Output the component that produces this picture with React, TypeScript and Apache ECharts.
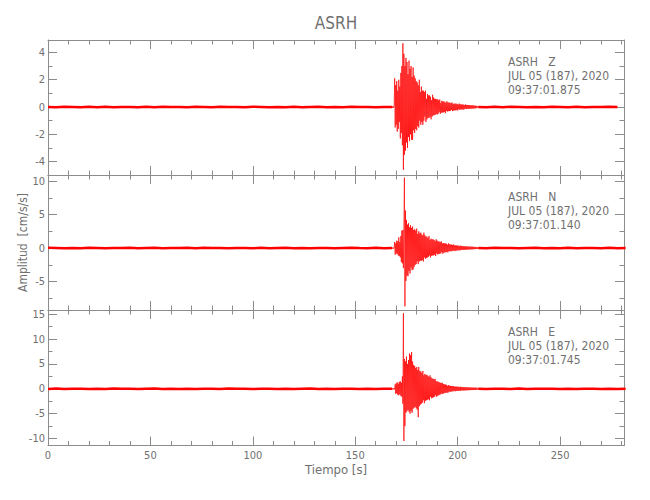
import React, { useEffect, useRef } from 'react';
import * as echarts from 'echarts';

// ---------- text content ----------
const STATION = 'ASRH';
const CHANNELS = ['Z', 'N', 'E'];
const DATE_LABEL = 'JUL 05 (187), 2020';
const START_TIMES = ['09:37:01.875', '09:37:01.140', '09:37:01.745'];
const X_AXIS_NAME = 'Tiempo [s]';
const Y_AXIS_NAME = 'Amplitud  [cm/s/s]';

// ---------- axes ----------
const X_MAX = 281.2;
const X_MAJOR = [0, 50, 100, 150, 200, 250];
const X_MINOR = [10, 20, 30, 40, 60, 70, 80, 90, 110, 120, 130, 140, 160, 170, 180, 190, 210, 220, 230, 240, 260, 270, 280];
const Y_MIN = [-4.98, -9.25, -11.4];
const Y_MAX = [4.91, 10.9, 15.85];
const Y_MAJOR_Z = [-4, -2, 0, 2, 4];
const Y_MAJOR_N = [-5, 0, 5, 10];
const Y_MAJOR_E = [-10, -5, 0, 5, 10, 15];
const Y_MINOR_Z = [-3, -1, 1, 3];
const Y_MINOR_N = [-7.5, -2.5, 2.5, 7.5];
const Y_MINOR_E = [-7.5, -2.5, 2.5, 7.5, 12.5];

// ---------- sampling of the traces (s) ----------
const PRE_START = 0;
const NOISE_STEP = 4;
const EVENT_START = 168;
const EVENT_STEP = 0.25;
const POST_START = 210;

// ---------- Z component ----------
const zPre = [0.01, -0.02, 0.015, 0.0, -0.015, 0.02, -0.01, 0.015, -0.02, 0.01, 0.005, -0.015, 0.02, -0.01, 0.015, -0.005, 0.01, -0.02, 0.015, 0.01, -0.015, 0.02, -0.005, 0.01, -0.015, 0.015, 0.005, -0.02, 0.01, -0.01, 0.02, -0.015, 0.005, 0.015, -0.01, 0.01, -0.02, 0.015, -0.005, 0.01, -0.015, 0.01, 0.0];
const zEvent = [
  0.05, -0.07, 0.06, -0.05,
  0.09, 2.1, -1.5, 1.6,
  -1.3, 1.9, -1.8, 1.2,
  -1.6, 2.0, -1.1, 1.5,
  -2.3, 2.5, -1.9, 3.0,
  -2.8, 4.67, -4.6, 3.9,
  -3.5, 3.0, -3.2, 3.6,
  -2.6, 3.3, -3.0, 2.4,
  -2.2, 3.4, -2.5, 2.8,
  -2.0, 3.0, -2.4, 2.2,
  -2.4, 2.9, -1.7, 2.3,
  -1.9, 2.1, -1.6, 1.9,
  -1.7, 1.8, -1.4, 1.6,
  -1.5, 2.0, -1.0, 1.1,
  -1.3, 1.5, -1.1, 1.2,
  -1.3, 1.2, -1.0, 1.1,
  -0.7, 1.2, -1.1, 0.6,
  -0.9, 0.95, -0.8, 0.85,
  -0.8, 0.85, -0.7, 0.75,
  -0.9, 0.5, -0.7, 0.9,
  -0.62, 0.7, -0.6, 0.6,
  -0.58, 0.6, -0.5, 0.56,
  -0.55, 0.56, -0.48, 0.5,
  -0.35, 0.55, -0.5, 0.3,
  -0.42, 0.45, -0.4, 0.42,
  -0.4, 0.4, -0.36, 0.38,
  -0.45, 0.3, -0.28, 0.42,
  -0.33, 0.34, -0.3, 0.32,
  -0.3, 0.31, -0.28, 0.3,
  -0.2, 0.33, -0.3, 0.22,
  -0.26, 0.25, -0.24, 0.25,
  -0.24, 0.24, -0.22, 0.23,
  -0.26, 0.18, -0.16, 0.25,
  -0.2, 0.2, -0.18, 0.19,
  -0.18, 0.18, -0.17, 0.18,
  -0.2, 0.13, -0.12, 0.19,
  -0.15, 0.15, -0.14, 0.15,
  -0.14, 0.14, -0.13, 0.13,
  -0.13, 0.12, -0.12, 0.12,
  -0.12, 0.12, -0.11, 0.11,
  -0.11, 0.1, -0.1, 0.1,
  -0.09, 0.08, -0.07, 0.06,
  0.01,
];
const zPost = [0.01, -0.02, 0.015, -0.01, 0.02, 0.005, -0.015, 0.01, -0.02, 0.015, 0.005, -0.01, 0.02, -0.015, 0.01, -0.005, 0.015, 0.0];

// ---------- N component ----------
const nPre = [0.025, 0.01, -0.03, 0.02, -0.015, 0.03, 0.005, -0.025, 0.02, -0.01, 0.03, -0.02, 0.01, 0.025, -0.03, 0.015, -0.005, 0.025, -0.02, 0.03, -0.01, 0.015, -0.025, 0.02, 0.005, -0.03, 0.025, -0.015, 0.01, 0.03, -0.02, 0.015, -0.025, 0.01, 0.02, -0.03, 0.015, 0.025, -0.01, -0.02, 0.03, -0.015, 0.0];
const nEvent = [
  0.08, -0.1, 0.07, -0.09,
  0.12, 0.9, -1.0, 0.7,
  -0.8, 1.1, -0.9, 1.0,
  -1.1, 1.6, -1.2, 0.9,
  -1.4, 1.8, -2.1, 2.6,
  -2.3, 2.7, -3.0, 3.3,
  10.5, -8.7, 5.6, -4.9,
  4.2, -4.1, 3.5, -4.2,
  3.7, -3.4, 3.1, -3.8,
  3.4, -2.9, 3.0, -3.3,
  3.2, -3.2, 2.7, -2.8,
  2.8, -2.5, 2.6, -2.4,
  2.9, -2.0, 2.1, -2.4,
  2.5, -2.0, 2.2, -1.9,
  2.3, -1.9, 2.0, -1.8,
  1.9, -2.0, 2.3, -1.4,
  1.9, -1.6, 1.7, -1.5,
  1.7, -1.4, 1.5, -1.3,
  1.8, -1.1, 1.2, -1.4,
  1.4, -1.15, 1.3, -1.1,
  1.3, -1.1, 1.2, -1.0,
  1.0, -1.2, 1.3, -0.8,
  1.1, -0.95, 1.0, -0.9,
  0.95, -0.85, 0.9, -0.8,
  1.0, -0.6, 0.7, -0.85,
  0.75, -0.7, 0.7, -0.65,
  0.68, -0.62, 0.64, -0.6,
  0.5, -0.65, 0.7, -0.45,
  0.55, -0.5, 0.52, -0.48,
  0.5, -0.46, 0.47, -0.44,
  0.52, -0.35, 0.38, -0.46,
  0.4, -0.38, 0.38, -0.36,
  0.36, -0.34, 0.34, -0.32,
  0.28, -0.36, 0.37, -0.25,
  0.3, -0.28, 0.28, -0.27,
  0.27, -0.26, 0.26, -0.25,
  0.25, -0.24, 0.24, -0.23,
  0.23, -0.22, 0.22, -0.21,
  0.21, -0.2, 0.2, -0.19,
  0.2, -0.19, 0.19, -0.18,
  0.18, -0.17, 0.17, -0.16,
  0.16, -0.15, 0.14, -0.12,
  0.015,
];
const nPost = [0.015, -0.025, 0.03, -0.01, 0.02, -0.03, 0.015, 0.025, -0.02, 0.01, -0.03, 0.025, -0.015, 0.02, 0.01, -0.025, 0.03, -0.015, 0.01];

// ---------- E component ----------
const ePre = [-0.03, 0.04, -0.015, 0.035, 0.01, -0.04, 0.025, -0.02, 0.045, -0.01, 0.03, -0.035, 0.015, 0.04, -0.025, 0.01, -0.04, 0.03, -0.015, 0.035, 0.02, -0.03, 0.04, -0.01, 0.025, -0.045, 0.015, 0.03, -0.02, 0.035, -0.03, 0.01, 0.04, -0.025, 0.02, -0.035, 0.03, 0.005, -0.04, 0.025, -0.015, 0.03, 0.0];
const eEvent = [
  0.1, -0.14, 0.12, -0.1,
  0.13, -0.12, 0.9, -1.0,
  1.1, -0.9, 1.3, -1.2,
  1.0, -1.3, 1.4, -1.1,
  1.5, -1.4, 1.2, -1.6,
  2.5, -3.0, 15.2, -10.5,
  6.0, -7.5, 5.5, -4.8,
  6.5, -4.5, 5.0, -4.2,
  5.8, -4.6, 7.1, -5.0,
  6.8, -4.4, 7.4, -4.8,
  5.5, -4.0, 4.8, -3.8,
  4.6, -3.6, 4.2, -3.9,
  4.4, -4.2, 3.8, -5.7,
  4.4, -3.5, 3.6, -3.2,
  3.5, -3.0, 3.2, -2.8,
  3.6, -2.3, 2.7, -2.9,
  3.0, -2.4, 2.8, -2.3,
  2.8, -2.2, 2.6, -2.1,
  2.4, -2.3, 2.7, -1.6,
  2.3, -1.9, 2.1, -1.8,
  2.0, -1.7, 1.9, -1.6,
  2.0, -1.3, 1.5, -1.6,
  1.5, -1.4, 1.4, -1.3,
  1.3, -1.2, 1.2, -1.1,
  1.2, -0.9, 1.2, -1.05,
  0.95, -0.9, 0.9, -0.85,
  0.85, -0.8, 0.8, -0.75,
  0.6, -0.8, 0.75, -0.58,
  0.62, -0.6, 0.58, -0.56,
  0.55, -0.52, 0.52, -0.5,
  0.56, -0.42, 0.4, -0.5,
  0.45, -0.43, 0.43, -0.41,
  0.42, -0.4, 0.4, -0.38,
  0.35, -0.42, 0.43, -0.3,
  0.36, -0.34, 0.34, -0.33,
  0.33, -0.32, 0.32, -0.3,
  0.31, -0.3, 0.3, -0.28,
  0.3, -0.28, 0.28, -0.27,
  0.28, -0.26, 0.26, -0.25,
  0.26, -0.25, 0.25, -0.24,
  0.25, -0.24, 0.24, -0.23,
  0.24, -0.22, 0.2, -0.15,
  0.015,
];
const ePost = [0.015, -0.035, 0.025, 0.01, -0.03, 0.04, -0.02, 0.03, -0.01, 0.035, -0.025, 0.015, -0.04, 0.03, 0.01, -0.025, 0.035, -0.015, 0.02];

// ---------- layout / style ----------
const GRID_LEFT = 48;
const GRID_WIDTH = 576;
const GRID_TOPS = [40, 175, 310];
const GRID_HEIGHTS = [135, 135, 135.5];
const AXIS_COLOR = '#8c8c8c';
const TEXT_COLOR = '#707070';
const TRACE_COLOR = '#ff0000';
const FONT = '"Liberation Sans Narrow", "DejaVu Sans Condensed", "Liberation Sans", sans-serif';

const TRACES = [
  { pre: zPre, event: zEvent, post: zPost, yMajor: Y_MAJOR_Z, yMinor: Y_MINOR_Z },
  { pre: nPre, event: nEvent, post: nPost, yMajor: Y_MAJOR_N, yMinor: Y_MINOR_N },
  { pre: ePre, event: eEvent, post: ePost, yMajor: Y_MAJOR_E, yMinor: Y_MINOR_E },
];

function sampled(values: number[], start: number, step: number) {
  return values.map((v, i) => [start + i * step, v]);
}

function buildOption() {
  const line = { color: AXIS_COLOR, width: 1 };
  const grid: any[] = [];
  const xAxis: any[] = [];
  const yAxis: any[] = [];
  const series: any[] = [];
  const graphic: any[] = [];

  TRACES.forEach((tr, p) => {
    grid.push({ left: GRID_LEFT, top: GRID_TOPS[p], width: GRID_WIDTH, height: GRID_HEIGHTS[p], show: false });
    const isBottom = p === TRACES.length - 1;
    (['bottom', 'top'] as const).forEach((pos) => {
      [true, false].forEach((major) => {
        xAxis.push({
          type: 'value',
          gridIndex: p,
          position: pos,
          min: 0,
          max: X_MAX,
          axisLine: { show: major, onZero: false, lineStyle: line },
          axisTick: { show: true, inside: true, length: major ? 9 : 4.5, customValues: major ? X_MAJOR : X_MINOR, lineStyle: line },
          axisLabel: {
            show: isBottom && pos === 'bottom' && major,
            customValues: X_MAJOR,
            margin: 4,
            color: TEXT_COLOR,
            fontFamily: FONT,
            fontSize: 11,
            formatter: (v: number) => String(v),
          },
          splitLine: { show: false },
        });
      });
    });
    (['left', 'right'] as const).forEach((pos) => {
      [true, false].forEach((major) => {
        yAxis.push({
          type: 'value',
          gridIndex: p,
          position: pos,
          min: Y_MIN[p],
          max: Y_MAX[p],
          axisLine: { show: major, onZero: false, lineStyle: line },
          axisTick: { show: true, inside: true, length: major ? 9 : 4.5, customValues: major ? tr.yMajor : tr.yMinor, lineStyle: line },
          axisLabel: {
            show: pos === 'left' && major,
            customValues: tr.yMajor,
            margin: 3,
            color: TEXT_COLOR,
            fontFamily: FONT,
            fontSize: 11,
            formatter: (v: number) => String(v),
          },
          splitLine: { show: false },
        });
      });
    });

    const common = {
      type: 'line',
      xAxisIndex: 4 * p,
      yAxisIndex: 4 * p,
      showSymbol: false,
      symbol: 'none',
      silent: true,
      clip: true,
    };
    series.push({ ...common, data: sampled(tr.pre, PRE_START, NOISE_STEP), lineStyle: { color: TRACE_COLOR, width: 2.5 } });
    series.push({ ...common, data: sampled(tr.event, EVENT_START, EVENT_STEP), lineStyle: { color: TRACE_COLOR, width: 0.7 } });
    series.push({ ...common, data: sampled(tr.post, POST_START, NOISE_STEP), lineStyle: { color: TRACE_COLOR, width: 2.5 } });

    const labels = [`${STATION}   ${CHANNELS[p]}`, DATE_LABEL, START_TIMES[p]];
    const offsets = [21.5, 35.5, 49.8];
    labels.forEach((txt, k) => {
      graphic.push({
        type: 'text',
        x: 508,
        y: GRID_TOPS[p] + offsets[k],
        silent: true,
        style: { text: txt, fill: TEXT_COLOR, fontFamily: FONT, fontSize: 12, align: 'left', verticalAlign: 'middle' },
      });
    });
  });

  graphic.push({
    type: 'text', x: 336, y: 23, silent: true,
    style: { text: STATION, fill: TEXT_COLOR, fontFamily: FONT, fontSize: 17, align: 'center', verticalAlign: 'middle' },
  });
  graphic.push({
    type: 'text', x: 336, y: 469, silent: true,
    style: { text: X_AXIS_NAME, fill: TEXT_COLOR, fontFamily: FONT, fontSize: 13, align: 'center', verticalAlign: 'middle' },
  });
  graphic.push({
    type: 'text', x: 22.5, y: 242.5, rotation: Math.PI / 2, silent: true,
    style: { text: Y_AXIS_NAME, fill: TEXT_COLOR, fontFamily: FONT, fontSize: 12, align: 'center', verticalAlign: 'middle' },
  });

  return {
    animation: false,
    backgroundColor: '#ffffff',
    grid,
    xAxis,
    yAxis,
    series,
    graphic,
  };
}

export default function App() {
  const ref = useRef<HTMLDivElement>(null);
  useEffect(() => {
    if (!ref.current) return;
    const chart = echarts.init(ref.current, undefined, { renderer: 'svg' });
    chart.setOption(buildOption() as any);
    return () => chart.dispose();
  }, []);
  return <div ref={ref} style={{ position: 'absolute', left: 0, top: 0, width: 650, height: 500 }} />;
}
